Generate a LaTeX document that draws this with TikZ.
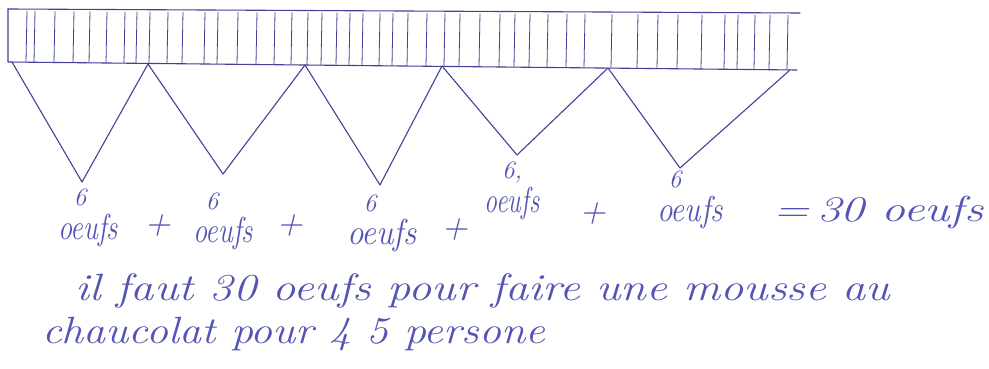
\documentclass[tikz,border=0pt]{standalone}
\usepackage{graphicx}
\definecolor{inkc}{RGB}{66,66,150}
\definecolor{textc}{RGB}{84,84,180}
\newcommand{\fitw}[2]{\resizebox{#1}{\height}{#2}}
\begin{document}
\begin{tikzpicture}[x=1pt,y=-1pt,
  ink/.style={draw=inkc, line width=1.1pt, line join=round, line cap=round},
  hatch/.style={draw=inkc, line width=0.8pt},
  hand/.style={text=textc, inner sep=0pt, anchor=base, font=\fontsize{36}{40}\selectfont\itshape},
  small/.style={text=textc, inner sep=0pt, anchor=base, font=\fontsize{25}{28}\selectfont\itshape},
  line/.style={text=textc, inner sep=0pt, anchor=base west, font=\fontsize{38}{42}\selectfont\itshape}]
\useasboundingbox (0,0) rectangle (989,369);
\fill[white] (0,0) rectangle (989,369);
% bar corners
\coordinate (tl) at (8,9);
\coordinate (tr) at (800,13);
\coordinate (bl) at (8,62);
\coordinate (br) at (797,70);
% hatch lines
\foreach \x in {27,35,55,74,90,107,125,137,150,168,183,205,218,238,257,275,292,308,322,337,350,363,380,393,408,427,445,460,480,500,515,530,548,567,585,612,638,658,678,702,725,738,755,770,788}{
  \pgfmathsetmacro{\yt}{9+\x*4/792+2}
  \pgfmathsetmacro{\yb}{62+\x*8/790}
  \draw[hatch] (\x,\yt) -- (\x-1,\yb);
}
\draw[ink] (tl) -- (tr);
\draw[ink] (tl) -- (bl) -- (br);
% triangle vertices
\coordinate (b0) at (12,62);
\coordinate (b1) at (148,64);
\coordinate (b2) at (305,65);
\coordinate (b3) at (442,66);
\coordinate (b4) at (608,68);
\coordinate (b5) at (790,70);
\coordinate (t1) at (82,182);
\coordinate (t2) at (223,174);
\coordinate (t3) at (380,185);
\coordinate (t4) at (517,155);
\coordinate (t5) at (680,168);
\draw[ink] (b0) -- (t1) -- (b1) -- (t2) -- (b2) -- (t3) -- (b3) -- (t4) -- (b4) -- (t5) -- (b5);
% row of sums
\node[small] (s1) at (80,205) {6};
\node[hand] (o1) at (88,239) {\fitw{60pt}{oeufs}};
\node[hand] (p1) at (158,234) {+};
\node[small] (s2) at (212,209) {6};
\node[hand] (o2) at (223,242) {\fitw{60pt}{oeufs}};
\node[hand] (p2) at (290,234) {+};
\node[small] (s3) at (370,211) {6};
\node[hand] (o3) at (382,244) {\fitw{70pt}{oeufs}};
\node[hand] (p3) at (455,238) {+};
\node[small] (s4) at (512,178) {6,};
\node[hand] (o4) at (512,212) {\fitw{55pt}{oeufs}};
\node[hand] (p4) at (593,222) {+};
\node[small] (s5) at (675,187) {6};
\node[hand] (o5) at (690,221) {\fitw{66pt}{oeufs}};
\node[hand, anchor=base west] (res) at (773,221) {\fitw{210pt}{=\,30 oeufs}};
% sentence
\node[line] (l1) at (75,300) {\fitw{815pt}{il faut 30 oeufs pour faire une mousse au}};
\node[line] (l2) at (42,343) {\fitw{503pt}{chaucolat pour 4 5 persone}};
\end{tikzpicture}
\end{document}
